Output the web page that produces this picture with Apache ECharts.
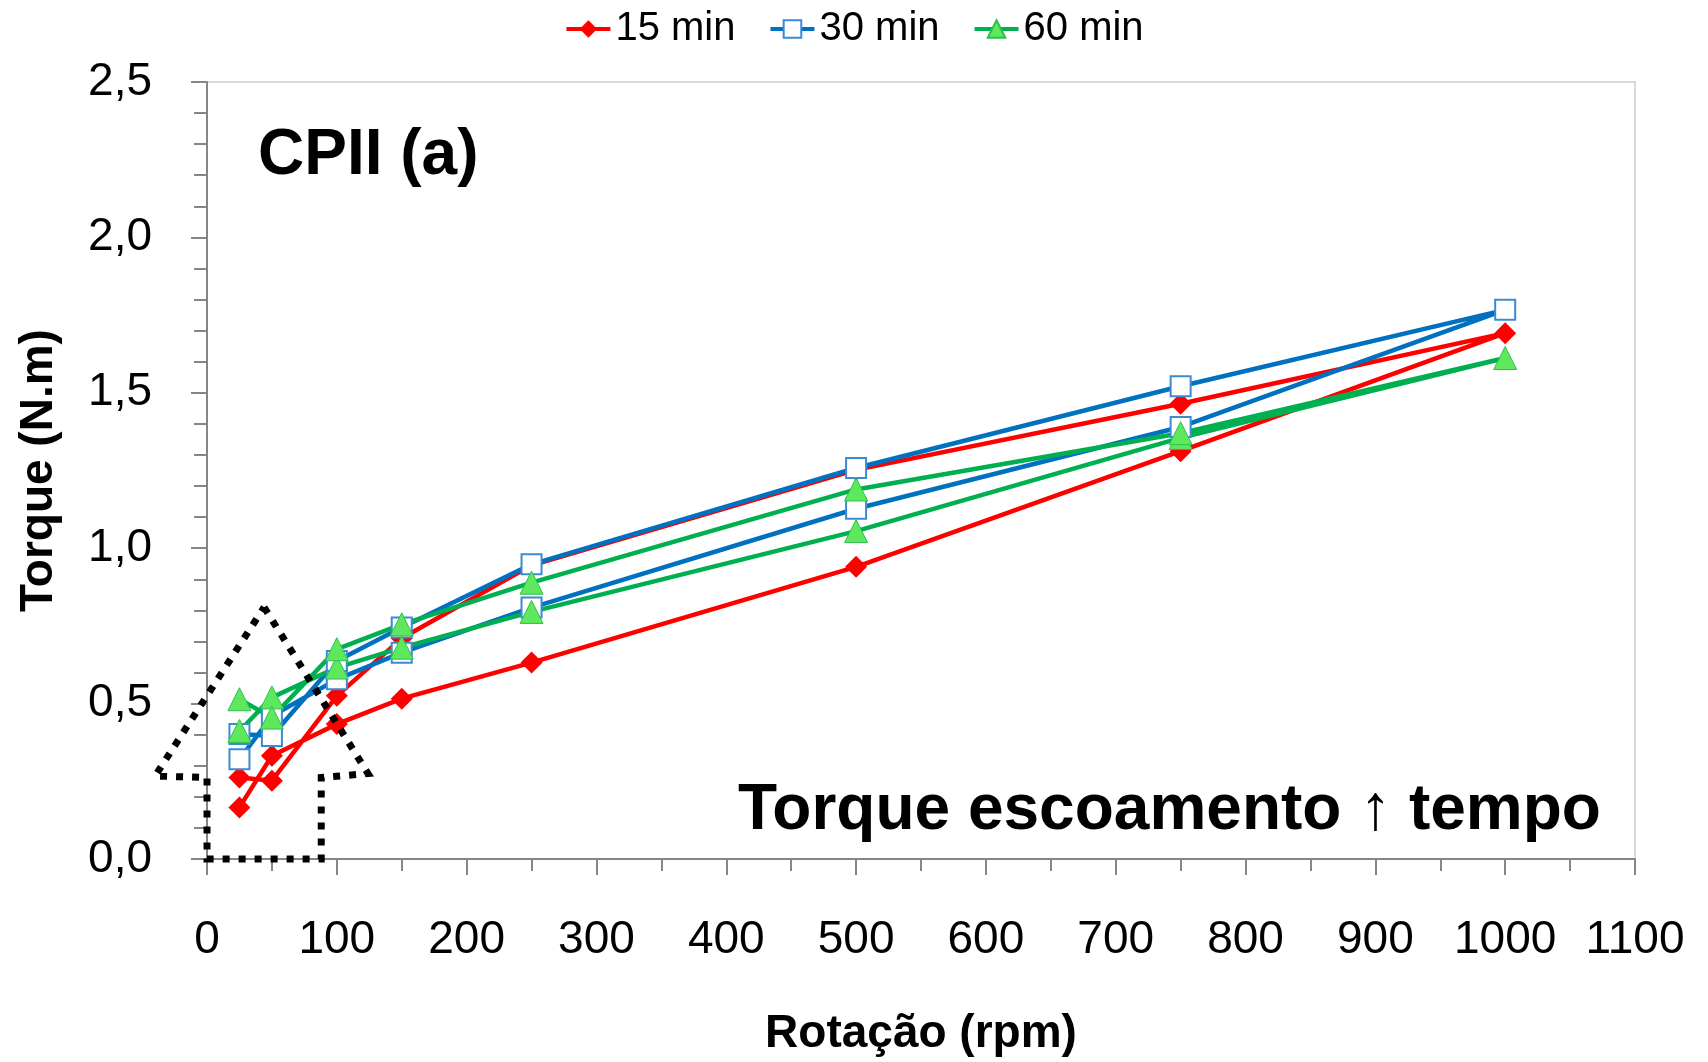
<!DOCTYPE html>
<html>
<head>
<meta charset="utf-8">
<script src="https://cdn.jsdelivr.net/npm/echarts@6/dist/echarts.min.js"></script>
<style>
  html, body { margin: 0; padding: 0; background: #fff; }
  #chart { width: 1708px; height: 1062px; }
</style>
</head>
<body>
<div id="chart"></div>
<script>
// rotação (rpm): subida e depois descida
const rpm = [25, 50, 100, 150, 250, 500, 750, 1000, 750, 500, 250, 150, 100, 50, 25]
const torque15 = [0.166, 0.332, 0.434, 0.516, 0.632, 0.94, 1.312, 1.692, 1.465, 1.252, 0.945, 0.71, 0.525, 0.252, 0.262]
const torque30 = [0.321, 0.46, 0.578, 0.664, 0.809, 1.127, 1.39, 1.767, 1.521, 1.258, 0.948, 0.745, 0.637, 0.396, 0.402]
const torque60 = [0.412, 0.52, 0.616, 0.68, 0.795, 1.055, 1.355, 1.612, 1.37, 1.189, 0.889, 0.755, 0.675, 0.455, 0.514]
const seriesNames = ['15 min', '30 min', '60 min']
const yTickLabels = ['0,0', '0,5', '1,0', '1,5', '2,0', '2,5']
// contorno da seta pontilhada (coordenadas de dados)
const arrowX = [44, 124, 88, 88, 0, 0, -40, 44]
const arrowY = [0.81, 0.275, 0.262, 0, 0, 0.262, 0.267, 0.81]

const FONT = '"Liberation Sans", Arial, sans-serif'
const pairs = (xs, ys) => xs.map((x, i) => [x, ys[i]])

const chart = echarts.init(document.getElementById('chart'))
chart.setOption({
  animation: false,
  textStyle: { fontFamily: FONT, color: '#000' },
  legend: {
    top: 4,
    left: 'center',
    itemWidth: 44,
    itemHeight: 22,
    itemGap: 33,
    data: seriesNames,
    lineStyle: { width: 4 },
    textStyle: { fontSize: 40, color: '#000', fontFamily: FONT }
  },
  grid: {
    left: 207,
    right: 73,
    top: 82,
    bottom: 202,
    show: true,
    borderColor: '#d9d9d9',
    borderWidth: 2
  },
  xAxis: {
    type: 'value',
    min: 0,
    max: 1100,
    interval: 100,
    name: 'Rotação (rpm)',
    nameLocation: 'middle',
    nameGap: 152,
    nameTextStyle: { fontSize: 46, fontWeight: 'bold', color: '#000', fontFamily: FONT },
    axisLine: { show: true, lineStyle: { color: '#868686', width: 2 } },
    axisTick: { show: true, length: 16, lineStyle: { color: '#868686', width: 2 } },
    minorTick: { show: true, splitNumber: 2, length: 12, lineStyle: { color: '#868686', width: 2 } },
    splitLine: { show: false },
    axisLabel: { fontSize: 46, color: '#000', margin: 58, fontFamily: FONT, formatter: (v) => String(v) }
  },
  yAxis: {
    type: 'value',
    min: 0,
    max: 2.5,
    interval: 0.5,
    name: 'Torque (N.m)',
    nameLocation: 'middle',
    nameGap: 145,
    nameTextStyle: { fontSize: 46, fontWeight: 'bold', color: '#000', fontFamily: FONT },
    axisLine: { show: true, lineStyle: { color: '#868686', width: 2 } },
    axisTick: { show: true, length: 16, lineStyle: { color: '#868686', width: 2 } },
    minorTick: { show: true, splitNumber: 5, length: 13, lineStyle: { color: '#868686', width: 2 } },
    splitLine: { show: false },
    axisLabel: {
      fontSize: 46,
      color: '#000',
      margin: 55,
      fontFamily: FONT,
      formatter: (value) => yTickLabels[Math.round(value / 0.5)]
    }
  },
  series: [
    {
      name: seriesNames[0],
      type: 'line',
      data: pairs(rpm, torque15),
      symbol: 'diamond',
      symbolSize: 22,
      lineStyle: { color: '#ff0000', width: 4.5 },
      itemStyle: { color: '#ff0000', borderColor: '#ff0000', borderWidth: 0 }
    },
    {
      name: seriesNames[1],
      type: 'line',
      data: pairs(rpm, torque30),
      symbol: 'rect',
      symbolSize: 20,
      lineStyle: { color: '#0070c0', width: 4.5 },
      itemStyle: { color: '#ffffff', borderColor: '#3a8ad4', borderWidth: 2 }
    },
    {
      name: seriesNames[2],
      type: 'line',
      data: pairs(rpm, torque60),
      symbol: 'triangle',
      symbolSize: 23,
      lineStyle: { color: '#00b050', width: 4.5 },
      itemStyle: { color: '#5ee85e', borderColor: '#2fbf4f', borderWidth: 1 }
    }
  ],
  graphic: [
    {
      type: 'text',
      x: 258,
      y: 156,
      style: { text: 'CPII (a)', font: 'bold 64px ' + FONT, fill: '#000', verticalAlign: 'middle' }
    },
    {
      type: 'text',
      x: 738,
      y: 811,
      style: { text: 'Torque escoamento ↑ tempo', font: 'bold 64px ' + FONT, fill: '#000', verticalAlign: 'middle' }
    }
  ]
})

// seta pontilhada: vértices em dados, convertidos pela escala dos eixos
const arrowPoints = pairs(arrowX, arrowY).map(p => chart.convertToPixel({ gridIndex: 0 }, p))
chart.setOption({
  graphic: [
    {
      id: 'seta',
      type: 'polyline',
      z: 100,
      silent: true,
      shape: { points: arrowPoints },
      style: { stroke: '#000', lineWidth: 7, lineDash: [7, 9], lineCap: 'butt', fill: null }
    }
  ]
})
</script>
</body>
</html>
